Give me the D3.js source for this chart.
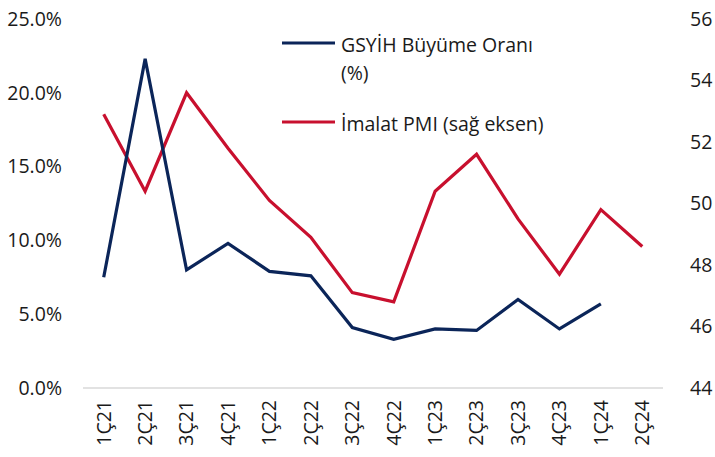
<!DOCTYPE html>
<html>
<head>
<meta charset="utf-8">
<script src="https://cdn.jsdelivr.net/npm/d3@7"></script>
<style>
  body { margin: 0; background: #fff; }
  svg { font-family: "Open Sans", "Noto Sans", sans-serif; }
</style>
</head>
<body>
<div id="chart"></div>
<script>
const width = 715;
const height = 457;
const margin = { top: 19, left: 83, right: 52, bottom: 69 };

// data
const quarters = ["1Ç21", "2Ç21", "3Ç21", "4Ç21", "1Ç22", "2Ç22", "3Ç22", "4Ç22",
  "1Ç23", "2Ç23", "3Ç23", "4Ç23", "1Ç24", "2Ç24"];
const gdpGrowth = [7.5, 22.3, 8.0, 9.8, 7.9, 7.6, 4.1, 3.3, 4.0, 3.9, 6.0, 4.0, 5.7, null];
const pmi = [52.9, 50.4, 53.6, 51.8, 50.1, 48.9, 47.1, 46.8, 50.4, 51.6, 49.5, 47.7, 49.8, 48.6];
const leftTicks = [0, 5, 10, 15, 20, 25];
const rightTicks = [44, 46, 48, 50, 52, 54, 56];

const blue = "#0b2559";
const red = "#c8102e";

const svg = d3.select("#chart").append("svg")
  .attr("width", width)
  .attr("height", height);

const x = d3.scaleBand()
  .domain(quarters)
  .range([margin.left, 663]);

const yL = d3.scaleLinear()
  .domain([0, 25])
  .range([height - margin.bottom, margin.top]);

const yR = d3.scaleLinear()
  .domain([44, 56])
  .range([height - margin.bottom, margin.top]);

const cx = d => x(d) + x.bandwidth() / 2;

// left axis
const gLeft = svg.append("g")
  .attr("transform", `translate(62,0)`)
  .call(d3.axisLeft(yL).tickValues(leftTicks).tickSize(0).tickPadding(0)
    .tickFormat(d => d3.format(".1f")(d) + "%"));
gLeft.select(".domain").remove();

// right axis
const gRight = svg.append("g")
  .attr("transform", `translate(690,0)`)
  .call(d3.axisRight(yR).tickValues(rightTicks).tickSize(0).tickPadding(0));
gRight.select(".domain").remove();

svg.selectAll(".tick text")
  .attr("font-size", 19.5)
  .attr("font-family", "Open Sans")
  .attr("fill", "#1a1a1a");

// baseline
svg.append("line")
  .attr("x1", x.range()[0])
  .attr("x2", x.range()[1])
  .attr("y1", yL(0))
  .attr("y2", yL(0))
  .attr("stroke", "#d9d9d9")
  .attr("stroke-width", 1.5);

// x axis labels
const gX = svg.append("g")
  .attr("transform", `translate(0,${yL(0)})`)
  .call(d3.axisBottom(x).tickSize(0).tickPadding(0));
gX.select(".domain").remove();
gX.selectAll("text")
  .attr("font-size", 19.5)
  .attr("font-family", "Open Sans")
  .attr("fill", "#1a1a1a")
  .attr("text-anchor", "end")
  .attr("transform", "rotate(-90)")
  .attr("x", -12)
  .attr("y", 0)
  .attr("dy", "0.35em");

// lines
const lineL = d3.line()
  .defined((d, i) => gdpGrowth[i] != null)
  .x((d, i) => cx(quarters[i]))
  .y(d => yL(d));

const lineR = d3.line()
  .x((d, i) => cx(quarters[i]))
  .y(d => yR(d));

svg.append("path")
  .datum(pmi)
  .attr("fill", "none")
  .attr("stroke", red)
  .attr("stroke-width", 3.2)
  .attr("d", lineR);

svg.append("path")
  .datum(gdpGrowth)
  .attr("fill", "none")
  .attr("stroke", blue)
  .attr("stroke-width", 3.2)
  .attr("d", lineL);

// legend
const legend = [
  { lines: ["GSYİH Büyüme Oranı", "(%)"], color: blue, y: 43 },
  { lines: ["İmalat PMI (sağ eksen)"], color: red, y: 122 }
];
legend.forEach(l => {
  svg.append("line")
    .attr("x1", 282).attr("x2", 335)
    .attr("y1", l.y).attr("y2", l.y)
    .attr("stroke", l.color)
    .attr("stroke-width", 3.2);
  l.lines.forEach((t, i) => {
    svg.append("text")
      .attr("x", 341)
      .attr("y", l.y + 2 + i * 28)
      .attr("dy", "0.35em")
      .attr("font-size", 19.5)
      .attr("fill", "#1a1a1a")
      .text(t);
  });
});
</script>
</body>
</html>
